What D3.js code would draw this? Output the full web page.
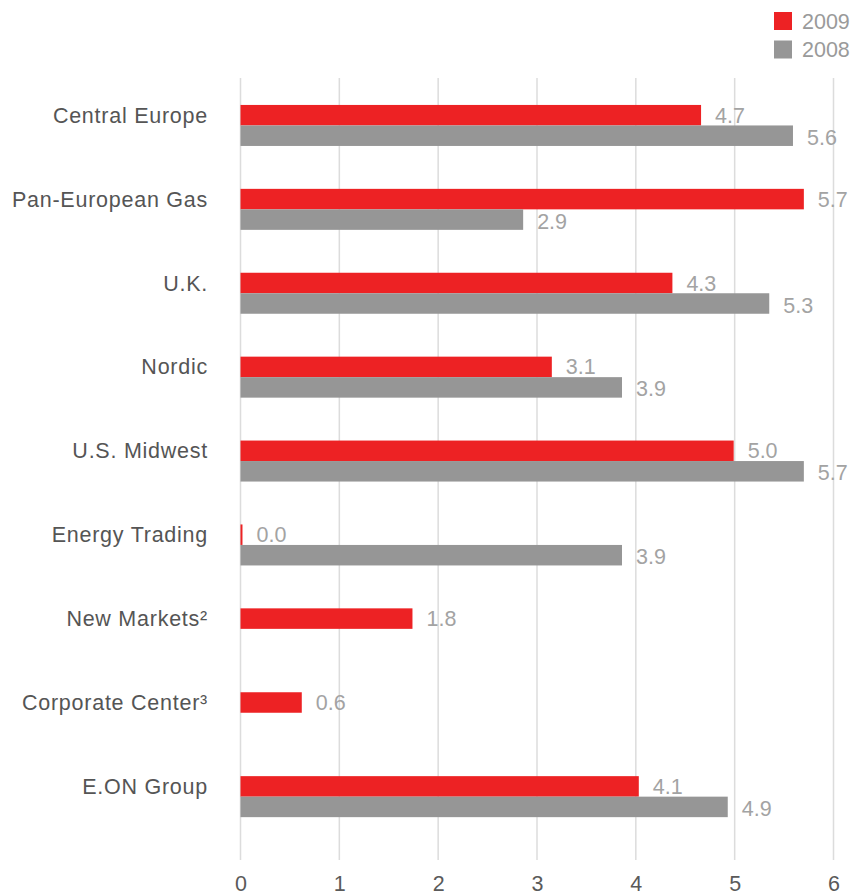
<!DOCTYPE html>
<html>
<head>
<meta charset="utf-8">
<script src="https://cdn.jsdelivr.net/npm/d3@7"></script>
<style>
  html, body { margin: 0; padding: 0; background: #fff; }
  svg { display: block; }
</style>
</head>
<body>
<svg id="chart" width="853" height="895"></svg>
<script>
// ---- data ----
const categories = ["Central Europe", "Pan-European Gas", "U.K.", "Nordic", "U.S. Midwest",
  "Energy Trading", "New Markets²", "Corporate Center³", "E.ON Group"];
const values2009 = [4.66, 5.70, 4.37, 3.15, 4.99, 0.02, 1.74, 0.62, 4.03];
const values2008 = [5.59, 2.86, 5.35, 3.86, 5.70, 3.86, null, null, 4.93];
const labels2009 = ["4.7", "5.7", "4.3", "3.1", "5.0", "0.0", "1.8", "0.6", "4.1"];
const labels2008 = ["5.6", "2.9", "5.3", "3.9", "5.7", "3.9", null, null, "4.9"];
const xTicks = [0, 1, 2, 3, 4, 5, 6];
const seriesNames = ["2009", "2008"];
const seriesColors = ["#ed2224", "#969696"];

// ---- layout ----
const svg = d3.select("#chart");
const x = d3.scaleLinear().domain([0, 6]).range([240.5, 833.5]);
const y = d3.scaleBand().domain(categories).range([83.5, 838.6]).paddingInner(0).paddingOuter(0);
const barH = 20.5;
const groupOffset = (y.step() - 2 * barH) / 2;
const font = "'Liberation Sans', Arial, Helvetica, sans-serif";

// gridlines
svg.append("g").selectAll("line").data(xTicks).join("line")
  .attr("x1", d => x(d)).attr("x2", d => x(d))
  .attr("y1", 78).attr("y2", 860)
  .attr("stroke", "#dcdcdc").attr("stroke-width", 1.5);

// x tick labels via axis
const xAxis = d3.axisBottom(x).tickValues(xTicks).tickFormat(d3.format("d")).tickSize(0).tickPadding(0);
const gx = svg.append("g").attr("transform", "translate(0,876)").call(xAxis);
gx.select(".domain").remove();
gx.selectAll("text")
  .attr("dy", "0.71em")
  .attr("y", 0)
  .style("font-family", font).style("font-size", "21.5px").attr("fill", "#5a5a5a");

const rows = categories.map((c, i) => ({ c, v9: values2009[i], v8: values2008[i], l9: labels2009[i], l8: labels2008[i] }));

// bars 2009
svg.append("g").selectAll("rect").data(rows).join("rect")
  .attr("x", x(0))
  .attr("y", d => y(d.c) + groupOffset)
  .attr("width", d => x(d.v9) - x(0))
  .attr("height", barH)
  .attr("fill", seriesColors[0]);

// bars 2008
svg.append("g").selectAll("rect").data(rows.filter(d => d.v8 != null)).join("rect")
  .attr("x", x(0))
  .attr("y", d => y(d.c) + groupOffset + barH)
  .attr("width", d => x(d.v8) - x(0))
  .attr("height", barH)
  .attr("fill", seriesColors[1]);

// value labels
const labelStyle = sel => sel.style("font-family", font).style("font-size", "21.5px").attr("fill", "#a3a3a3");
svg.append("g").selectAll("text").data(rows).join("text")
  .attr("x", d => x(d.v9) + 14)
  .attr("y", d => y(d.c) + groupOffset + barH / 2 + 7.5)
  .text(d => d.l9).call(labelStyle);
svg.append("g").selectAll("text").data(rows.filter(d => d.v8 != null)).join("text")
  .attr("x", d => x(d.v8) + 14)
  .attr("y", d => y(d.c) + groupOffset + barH * 1.5 + 9)
  .text(d => d.l8).call(labelStyle);

// category labels
svg.append("g").selectAll("text").data(rows).join("text")
  .attr("x", 208)
  .attr("y", d => y(d.c) + groupOffset + barH / 2 + 7.5)
  .attr("text-anchor", "end")
  .style("font-family", font).style("font-size", "21.5px").style("letter-spacing", "0.75px")
  .attr("fill", "#555")
  .text(d => d.c);

// legend
const legend = svg.append("g").selectAll("g").data(seriesNames).join("g")
  .attr("transform", (d, i) => `translate(774,${12 + i * 28.5})`);
legend.append("rect").attr("width", 18).attr("height", 18).attr("fill", (d, i) => seriesColors[i]);
legend.append("text").attr("x", 28).attr("y", 16.5)
  .style("font-family", font).style("font-size", "21.5px").attr("fill", "#9a9a9a")
  .text(d => d);
</script>
</body>
</html>
